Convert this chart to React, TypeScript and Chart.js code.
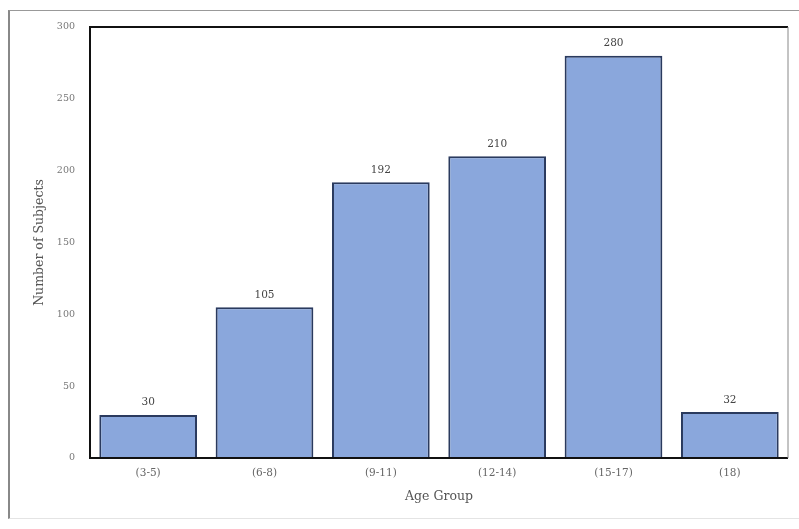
import React, { useEffect, useRef } from "react";
import { Chart, registerables } from "chart.js";

Chart.register(...registerables);

const categories = ["(3-5)", "(6-8)", "(9-11)", "(12-14)", "(15-17)", "(18)"];
const subjects = [30, 105, 192, 210, 280, 32];
const yTicks = [0, 50, 100, 150, 200, 250, 300];

const FONT = "'DejaVu Serif', 'Liberation Serif', serif";

const framePlugin = {
  id: "frame",
  afterDatasetsDraw(chart: any) {
    const { ctx, chartArea } = chart;
    const { left, right, top, bottom } = chartArea;
    ctx.save();
    ctx.strokeStyle = "#111";
    ctx.lineWidth = 2;
    ctx.beginPath();
    ctx.moveTo(right, top);
    ctx.lineTo(left, top);
    ctx.lineTo(left, bottom);
    ctx.lineTo(right, bottom);
    ctx.stroke();
    ctx.strokeStyle = "#888";
    ctx.lineWidth = 1;
    ctx.beginPath();
    ctx.moveTo(right, top);
    ctx.lineTo(right, bottom);
    ctx.stroke();
    ctx.restore();
  },
};

const labelPlugin = {
  id: "valueLabels",
  afterDatasetsDraw(chart: any) {
    const { ctx } = chart;
    const meta = chart.getDatasetMeta(0);
    const data = chart.data.datasets[0].data;
    ctx.save();
    ctx.font = `10.5px ${FONT}`;
    ctx.fillStyle = "#444";
    ctx.textAlign = "center";
    ctx.textBaseline = "bottom";
    meta.data.forEach((bar: any, i: number) => {
      ctx.fillText(String(data[i]), bar.x, bar.y - 7);
    });
    ctx.restore();
  },
};

export default function App() {
  const ref = useRef<HTMLCanvasElement | null>(null);

  useEffect(() => {
    if (!ref.current) return;
    const chart = new Chart(ref.current, {
      type: "bar",
      data: {
        labels: categories,
        datasets: [
          {
            data: subjects,
            backgroundColor: "#8aa7dc",
            borderColor: "#2a3a5e",
            borderWidth: 2,
            barPercentage: 0.84,
            categoryPercentage: 1,
          },
        ],
      },
      options: {
        animation: false,
        responsive: true,
        maintainAspectRatio: false,
        layout: { padding: { left: 8, top: 27, right: 11, bottom: 0 } },
        plugins: { legend: { display: false }, tooltip: { enabled: false } },
        scales: {
          x: {
            grid: { display: false, drawTicks: false },
            border: { display: false },
            ticks: { font: { family: FONT, size: 10.5 }, color: "#666", padding: 9 },
            title: {
              display: true,
              text: "Age Group",
              font: { family: FONT, size: 12.5 },
              color: "#555",
              padding: { top: 0, bottom: 25 },
            },
            afterFit: (s: any) => {
              s.height = 71;
            },
          },
          y: {
            min: 0,
            max: 300,
            grid: { display: false, drawTicks: false },
            border: { display: false },
            afterBuildTicks: (s: any) => {
              s.ticks = yTicks.map((v) => ({ value: v }));
            },
            ticks: { font: { family: FONT, size: 9.5 }, color: "#777", padding: 15 },
            title: {
              display: true,
              text: "Number of Subjects",
              font: { family: FONT, size: 12.5 },
              color: "#555",
              padding: { top: 24, bottom: 0 },
            },
            afterFit: (s: any) => {
              s.width = 82;
            },
          },
        },
      },
      plugins: [framePlugin, labelPlugin],
    });
    return () => chart.destroy();
  }, []);

  return (
    <div style={{ position: "fixed", left: 0, top: 0, width: 799, height: 529, background: "#fff" }}>
      <div
        style={{
          position: "absolute",
          left: 8,
          top: 10,
          right: 0,
          bottom: 10,
          borderTop: "1px solid #999",
          borderLeft: "2px solid #888",
          borderBottom: "1px solid #e4e4e4",
        }}
      />
      <div style={{ position: "absolute", left: 0, top: 0, width: 799, height: 529 }}>
        <canvas ref={ref} />
      </div>
    </div>
  );
}
